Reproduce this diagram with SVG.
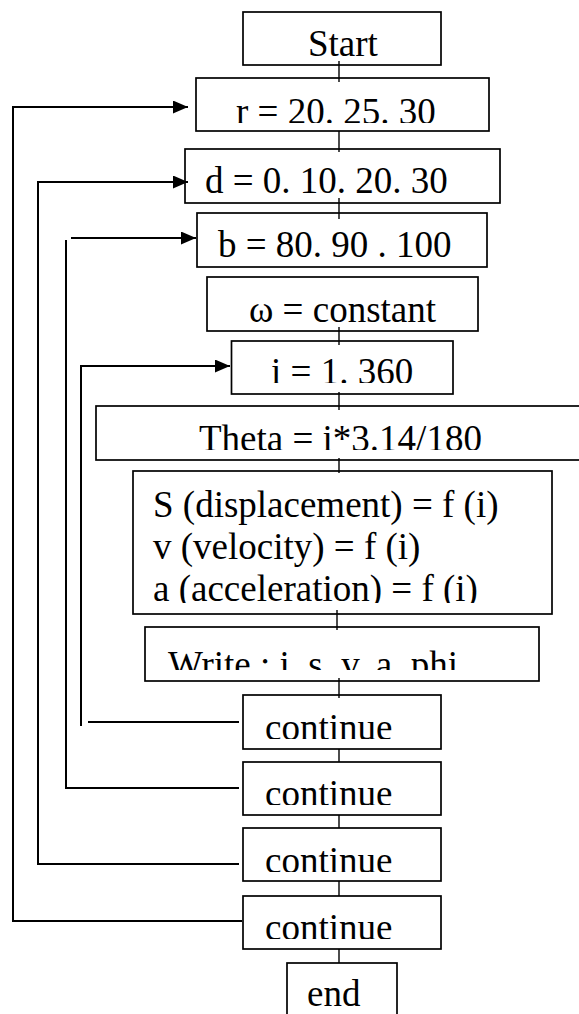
<svg xmlns="http://www.w3.org/2000/svg" width="579" height="1014" viewBox="0 0 579 1014">
  <style>
    .box { fill: #fff; stroke: #000; stroke-width: 1.7; }
    .lbl { font-family: "Liberation Serif", "Times New Roman", serif; font-size: 37px; fill: #000; }
    .link { stroke: #000; stroke-width: 1.4; fill: none; }
    .loop { stroke: #000; stroke-width: 2; fill: none; }
  </style>
  <defs>
    <marker id="head" markerWidth="15" markerHeight="13" refX="15" refY="6.5" orient="auto" markerUnits="userSpaceOnUse">
      <path d="M0,0 L15,6.5 L0,13 Z" fill="#000"/>
    </marker>
    <!-- text areas: each label is cut off a little above its box bottom -->
    <clipPath id="c-start"><rect x="243" y="12" width="198" height="45"/></clipPath>
    <clipPath id="c-r"><rect x="196" y="78" width="293" height="45"/></clipPath>
    <clipPath id="c-d"><rect x="185" y="149" width="315" height="45"/></clipPath>
    <clipPath id="c-b"><rect x="197" y="213" width="290" height="45"/></clipPath>
    <clipPath id="c-w"><rect x="207" y="277" width="271" height="46"/></clipPath>
    <clipPath id="c-i"><rect x="231" y="341" width="222" height="42"/></clipPath>
    <clipPath id="c-theta"><rect x="96" y="406" width="483" height="44"/></clipPath>
    <clipPath id="c-s"><rect x="133" y="471" width="419" height="132"/></clipPath>
    <clipPath id="c-write"><rect x="145" y="627" width="394" height="43"/></clipPath>
    <clipPath id="c-k1"><rect x="243" y="695" width="198" height="44"/></clipPath>
    <clipPath id="c-k2"><rect x="243" y="762" width="198" height="43"/></clipPath>
    <clipPath id="c-k3"><rect x="243" y="828" width="198" height="44"/></clipPath>
    <clipPath id="c-k4"><rect x="243" y="896" width="198" height="43"/></clipPath>
  </defs>

  <g id="start">
    <rect class="box" x="243" y="12" width="198" height="53"/>
    <text class="lbl" x="308" y="56" clip-path="url(#c-start)">Start</text>
  </g>
  <g id="loop-r">
    <rect class="box" x="196" y="78" width="293" height="53"/>
    <text class="lbl" x="236" y="124" clip-path="url(#c-r)">r = 20. 25. 30</text>
  </g>
  <g id="loop-d">
    <rect class="box" x="185" y="149" width="315" height="54"/>
    <text class="lbl" x="205" y="193" clip-path="url(#c-d)">d = 0. 10. 20. 30</text>
  </g>
  <g id="loop-b">
    <rect class="box" x="197" y="213" width="290" height="54"/>
    <text class="lbl" x="218" y="257" clip-path="url(#c-b)">b = 80. 90 . 100</text>
  </g>
  <g id="omega">
    <rect class="box" x="207" y="277" width="271" height="54"/>
    <text class="lbl" x="249" y="322" clip-path="url(#c-w)">ω = constant</text>
  </g>
  <g id="loop-i">
    <rect class="box" x="231.5" y="341" width="221.5" height="53"/>
    <text class="lbl" x="271" y="384" clip-path="url(#c-i)">i = 1. 360</text>
  </g>
  <g id="theta">
    <rect class="box" x="96" y="406" width="500" height="54"/>
    <text class="lbl" x="199" y="451" clip-path="url(#c-theta)">Theta = i*3.14/180</text>
  </g>
  <g id="motion">
    <rect class="box" x="133" y="471" width="419" height="143"/>
    <g clip-path="url(#c-s)">
      <text class="lbl" x="153" y="517">S (displacement) = f (i)</text>
      <text class="lbl" x="153" y="559">v (velocity) = f (i)</text>
      <text class="lbl" x="153" y="601">a (acceleration) = f (i)</text>
    </g>
  </g>
  <g id="write">
    <rect class="box" x="145" y="627" width="394" height="54"/>
    <text class="lbl" x="168" y="677" clip-path="url(#c-write)">Write : i .s. v. a. phi</text>
  </g>
  <g id="continue-i">
    <rect class="box" x="243" y="695" width="198" height="54"/>
    <text class="lbl" x="265" y="740" clip-path="url(#c-k1)">continue</text>
  </g>
  <g id="continue-b">
    <rect class="box" x="243" y="762" width="198" height="53"/>
    <text class="lbl" x="265" y="806" clip-path="url(#c-k2)">continue</text>
  </g>
  <g id="continue-d">
    <rect class="box" x="243" y="828" width="198" height="53"/>
    <text class="lbl" x="265" y="873" clip-path="url(#c-k3)">continue</text>
  </g>
  <g id="continue-r">
    <rect class="box" x="243" y="896" width="198" height="53"/>
    <text class="lbl" x="265" y="940" clip-path="url(#c-k4)">continue</text>
  </g>
  <g id="end">
    <rect class="box" x="287" y="963" width="110" height="60"/>
    <text class="lbl" x="307" y="1006">end</text>
  </g>

  <g id="connectors">
    <!-- main flow -->
    <line class="link" x1="339" y1="61" x2="339" y2="82"/>
    <line class="link" x1="339" y1="131" x2="339" y2="152"/>
    <line class="link" x1="339" y1="198" x2="339" y2="219"/>
    <line class="link" x1="339" y1="327" x2="339" y2="345"/>
    <line class="link" x1="339" y1="392" x2="339" y2="410"/>
    <line class="link" x1="339" y1="458" x2="339" y2="473"/>
    <line class="link" x1="337" y1="610" x2="337" y2="630"/>
    <line class="link" x1="339" y1="678" x2="339" y2="698"/>
    <line class="link" x1="339" y1="749" x2="339" y2="762"/>
    <line class="link" x1="339" y1="815" x2="339" y2="828"/>
    <line class="link" x1="339" y1="881" x2="339" y2="896"/>
    <line class="link" x1="339" y1="949" x2="339" y2="963"/>
    <!-- loop returns -->
    <polyline class="loop" points="242,921 13,921 13,107 188,107" marker-end="url(#head)"/>
    <polyline class="loop" points="239,864 38,864 38,182 188,182" marker-end="url(#head)"/>
    <polyline class="loop" points="239,788 66,788 66,240"/>
    <line class="loop" x1="71" y1="238" x2="196" y2="238" marker-end="url(#head)"/>
    <polyline class="loop" points="81,726 81,366 230,366" marker-end="url(#head)"/>
    <line class="loop" x1="88" y1="722" x2="239" y2="722"/>
  </g>
</svg>
